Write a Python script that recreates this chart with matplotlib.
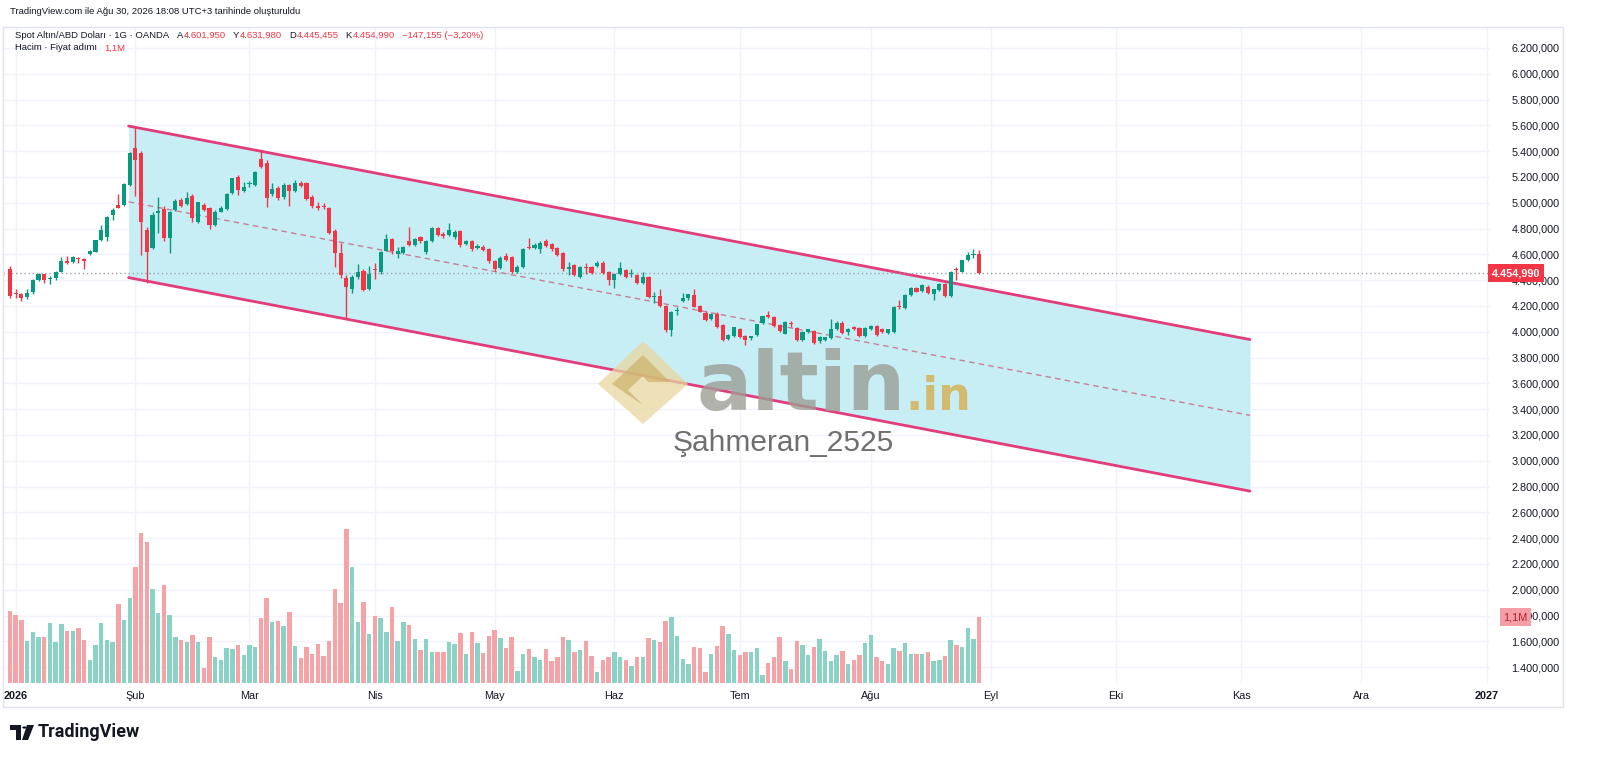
import numpy as np
import pandas as pd
import matplotlib
matplotlib.use("Agg")
import matplotlib.pyplot as plt
import matplotlib.transforms as mtrans
from matplotlib.patches import Rectangle, Polygon, Circle

plt.rcParams['font.family'] = ['Liberation Sans', 'DejaVu Sans']

# daily bars, bar 0 = 31 Dec 2025 ... bar 170 = 28 Aug 2026
opens = [4490, 4300, 4290, 4268, 4305, 4402, 4446, 4410, 4415, 4466,
         4551, 4540, 4572, 4565, 4603, 4621, 4711, 4737, 4905, 4983,
         4983, 5138, 5422, 5384, 4789, 4653, 4920, 4950, 4730, 4944,
         5022, 4988, 5055, 4849, 4983, 4958, 4828, 4931, 4952, 5074,
         5203, 5094, 5145, 5140, 5337, 5311, 5068, 5117, 5043, 5136,
         5089, 5156, 5151, 5043, 4978, 4975, 4957, 4784, 4609, 4415,
         4330, 4424, 4474, 4330, 4490, 4466, 4630, 4717, 4603, 4613,
         4700, 4674, 4733, 4620, 4700, 4803, 4760, 4750, 4733, 4784,
         4680, 4700, 4647, 4660, 4640, 4551, 4492, 4590, 4583, 4466,
         4500, 4655, 4647, 4640, 4707, 4678, 4652, 4613, 4485, 4518,
         4428, 4500, 4500, 4510, 4530, 4466, 4402, 4448, 4480, 4450,
         4440, 4376, 4428, 4268, 4278, 4200, 4014, 4160, 4240, 4260,
         4283, 4200, 4148, 4097, 4138, 4053, 3942, 3967, 4020, 3967,
         3950, 3975, 4066, 4130, 4112, 4053, 3985, 4065, 4027, 3936,
         3999, 4006, 3925, 3936, 3950, 4020, 4071, 4002, 4035, 4027,
         3965, 4020, 4045, 4020, 3990, 3995, 4200, 4182, 4285, 4337,
         4316, 4350, 4293, 4324, 4370, 4278, 4485, 4466, 4557, 4598,
         4601.950]
highs = [4510, 4335, 4300, 4335, 4410, 4452, 4450, 4432, 4470, 4582,
         4585, 4585, 4580, 4575, 4635, 4715, 4830, 4895, 4960, 5068,
         5150, 5390, 5590, 5400, 4810, 4925, 5047, 4975, 4935, 5030,
         5040, 5080, 5065, 5010, 4995, 4965, 4945, 4975, 5075, 5195,
         5215, 5160, 5170, 5250, 5410, 5330, 5150, 5130, 5150, 5145,
         5180, 5170, 5165, 5060, 5010, 4995, 4965, 4800, 4690, 4440,
         4440, 4525, 4490, 4510, 4530, 4630, 4760, 4725, 4660, 4665,
         4815, 4725, 4745, 4710, 4810, 4815, 4770, 4846, 4790, 4790,
         4710, 4710, 4680, 4670, 4648, 4560, 4585, 4610, 4590, 4515,
         4650, 4730, 4685, 4700, 4720, 4685, 4660, 4620, 4540, 4525,
         4510, 4530, 4510, 4545, 4545, 4475, 4455, 4540, 4490, 4485,
         4450, 4460, 4435, 4310, 4330, 4210, 4160, 4195, 4300, 4295,
         4330, 4210, 4160, 4145, 4150, 4060, 3980, 4040, 4030, 3975,
         3970, 4060, 4125, 4160, 4120, 4060, 4085, 4080, 4035, 4005,
         4025, 4015, 3965, 3962, 4097, 4080, 4080, 4030, 4045, 4035,
         4035, 4050, 4050, 4028, 4025, 4200, 4247, 4290, 4345, 4350,
         4370, 4365, 4335, 4380, 4378, 4470, 4505, 4560, 4615, 4645,
         4631.980]
lows = [4265, 4265, 4235, 4255, 4295, 4390, 4380, 4370, 4405, 4460,
        4525, 4535, 4530, 4487, 4598, 4615, 4705, 4705, 4870, 4958,
        4975, 5130, 5050, 4595, 4380, 4640, 4763, 4700, 4613, 4935,
        4965, 4980, 4850, 4840, 4935, 4800, 4820, 4925, 4945, 5065,
        5060, 5080, 5120, 5130, 5270, 4970, 5050, 5020, 5030, 4978,
        5080, 5120, 5020, 4960, 4945, 4950, 4760, 4500, 4420, 4100,
        4300, 4410, 4315, 4325, 4410, 4450, 4625, 4600, 4570, 4605,
        4665, 4665, 4690, 4600, 4695, 4745, 4730, 4745, 4720, 4660,
        4670, 4630, 4640, 4625, 4535, 4475, 4485, 4550, 4455, 4455,
        4495, 4640, 4640, 4610, 4655, 4630, 4585, 4475, 4440, 4430,
        4420, 4450, 4445, 4505, 4445, 4363, 4340, 4440, 4420, 4425,
        4370, 4370, 4260, 4220, 4190, 4000, 3967, 4130, 4230, 4250,
        4190, 4150, 4085, 4090, 4030, 3930, 3935, 3960, 3950, 3898,
        3940, 3970, 4060, 4105, 4040, 4000, 3980, 4040, 3930, 3925,
        3990, 3905, 3915, 3930, 3945, 4015, 3985, 3975, 4015, 3960,
        3958, 4015, 3970, 3990, 3985, 3990, 4180, 4175, 4280, 4305,
        4305, 4290, 4250, 4318, 4270, 4270, 4402, 4460, 4550, 4575,
        4445.455]
closes = [4280, 4290, 4262, 4300, 4400, 4446, 4402, 4420, 4461, 4551,
          4531, 4578, 4566, 4545, 4628, 4711, 4789, 4892, 4944, 4963,
          5143, 5384, 5332, 4854, 4621, 4906, 4935, 4725, 4925, 5014,
          4978, 5040, 4880, 5004, 4944, 4828, 4931, 4962, 5068, 5190,
          5100, 5125, 5150, 5241, 5280, 5035, 5105, 5035, 5138, 5094,
          5156, 5130, 5027, 4975, 4957, 4968, 4768, 4609, 4440, 4350,
          4428, 4460, 4324, 4448, 4480, 4621, 4718, 4630, 4624, 4655,
          4674, 4717, 4700, 4700, 4803, 4751, 4740, 4789, 4771, 4673,
          4700, 4641, 4665, 4634, 4545, 4485, 4574, 4560, 4466, 4505,
          4640, 4648, 4673, 4692, 4665, 4641, 4595, 4485, 4505, 4440,
          4500, 4492, 4453, 4530, 4453, 4402, 4448, 4492, 4428, 4458,
          4381, 4428, 4270, 4275, 4200, 4014, 4156, 4170, 4260, 4290,
          4195, 4156, 4091, 4138, 4040, 3936, 3975, 4035, 3957, 3936,
          3967, 4058, 4122, 4112, 4047, 4009, 4079, 4060, 3936, 3999,
          4018, 3916, 3957, 3957, 4022, 4071, 3990, 4020, 4020, 3967,
          4030, 4045, 3975, 3995, 4020, 4195, 4190, 4285, 4337, 4311,
          4362, 4298, 4330, 4370, 4278, 4466, 4478, 4556, 4598, 4602.145,
          4454.990]
# volume in millions
volumes = [1.20, 1.13, 1.05, 0.70, 0.85, 0.77, 0.77, 1.00, 0.68, 0.98,
           0.87, 0.87, 0.92, 0.72, 0.38, 0.63, 1.00, 0.72, 0.68, 1.32,
           1.05, 1.41, 1.94, 2.50, 2.35, 1.56, 1.16, 1.63, 1.13, 0.77,
           0.72, 0.68, 0.80, 0.68, 0.25, 0.77, 0.44, 0.39, 0.59, 0.56,
           0.63, 0.47, 0.63, 0.60, 1.08, 1.41, 1.01, 1.03, 0.95, 1.19,
           0.62, 0.41, 0.60, 0.48, 0.65, 0.45, 0.70, 1.57, 1.33, 2.57,
           1.93, 1.02, 1.35, 0.81, 1.11, 1.09, 0.85, 1.27, 0.70, 1.01,
           0.96, 0.74, 0.55, 0.74, 0.52, 0.52, 0.52, 0.68, 0.65, 0.84,
           0.48, 0.85, 0.67, 0.50, 0.79, 0.88, 0.75, 0.59, 0.77, 0.20,
           0.48, 0.57, 0.43, 0.38, 0.56, 0.36, 0.43, 0.77, 0.72, 0.52,
           0.55, 0.70, 0.45, 0.18, 0.38, 0.44, 0.52, 0.43, 0.38, 0.29,
           0.43, 0.43, 0.75, 0.72, 0.69, 1.03, 1.10, 0.78, 0.40, 0.32,
           0.60, 0.58, 0.19, 0.49, 0.61, 0.95, 0.82, 0.55, 0.47, 0.52,
           0.51, 0.59, 0.14, 0.34, 0.43, 0.77, 0.36, 0.24, 0.70, 0.64,
           0.46, 0.60, 0.73, 0.54, 0.37, 0.47, 0.54, 0.32, 0.38, 0.47,
           0.66, 0.80, 0.43, 0.36, 0.32, 0.59, 0.54, 0.66, 0.49, 0.48,
           0.48, 0.52, 0.36, 0.39, 0.45, 0.71, 0.64, 0.60, 0.91, 0.73,
           1.10]

# descending channel anchors (bar index, price)
chan_x = [20.8, 217.5]
chan_top = [5595, 3940]
chan_bottom = [4420, 2765]

month_labels = ['2026', 'Şub', 'Mar', 'Nis', 'May', 'Haz', 'Tem', 'Ağu',
                'Eyl', 'Eki', 'Kas', 'Ara', '2027']

UP, DOWN = '#089981', '#F23645'
VUP, VDOWN = '#8ad1c6', '#f5a3a6'
DARK = '#131722'


def tr_num(v):
    s = f"{v:,.3f}"
    return s.replace(',', 'X').replace('.', ',').replace('X', '.')


# trading calendar for the month labels
holidays = pd.to_datetime(['2026-01-01', '2026-04-03', '2026-12-25', '2027-01-01'])
days = pd.bdate_range('2025-12-31', '2027-01-15')
days = days[~days.isin(holidays)]
month_pos = []
for yr, mo in [(2026, m) for m in range(1, 13)] + [(2027, 1)]:
    month_pos.append(np.where((days.year == yr) & (days.month == mo))[0][0])

o = np.array(opens); h = np.array(highs); l = np.array(lows); c = np.array(closes)
x = np.arange(len(o))
up = c >= o

W, H = 1600, 772
fig = plt.figure(figsize=(16, 7.72), dpi=100)
fig.patch.set_facecolor('white')


def fx(px):
    return px / W


def fy(py):
    return 1 - py / H


ax = fig.add_axes([fx(3), fy(683), fx(1490) - fx(3), fy(28) - fy(683)])
ax.set_xlim(-1.23, 259.6)
ax.set_ylim(1277.5, 6355)
for s in ax.spines.values():
    s.set_visible(False)

# channel
ax.fill_between(chan_x, chan_bottom, chan_top, color='#c8eef5', zorder=1, lw=0)
ax.plot(chan_x, chan_top, color='#e23c7b', lw=2, zorder=2, solid_capstyle='round')
ax.plot(chan_x, chan_bottom, color='#e23c7b', lw=2, zorder=2, solid_capstyle='round')
mid = [(a + b) / 2 for a, b in zip(chan_top, chan_bottom)]
ax.plot(chan_x, mid, color='#c77f98', lw=1, ls=(0, (4, 3)), zorder=2)

# last price line
ax.axhline(c[-1], color='#9aa0ab', lw=1, ls=(0, (1, 2)), zorder=2)

# candles
col = np.where(up, UP, DOWN)
ax.vlines(x, l, h, colors=col, lw=1, zorder=3)
body_lo = np.minimum(o, c)
body_h = np.maximum(np.abs(c - o), 6)
ax.bar(x, body_h, bottom=body_lo, width=0.72, color=col, lw=0, zorder=4)

# volume overlay
vax = ax.twinx()
vax.set_ylim(0, 1.1 * 655 / 66)
vax.bar(x, volumes, width=0.78, color=np.where(up, VUP, VDOWN), lw=0)
vax.set_yticks([])
for s in vax.spines.values():
    s.set_visible(False)
vax.set_xlim(ax.get_xlim())

# grid and scales (after twinx, which moves the ticks back to the left)
yt = np.arange(1400, 6201, 200)
ax.set_yticks(yt)
ax.set_yticklabels([tr_num(v) for v in yt])
ax.yaxis.tick_right()
ax.tick_params(axis='y', which='both', left=False, right=False, labelleft=False,
               labelright=True, pad=12, labelsize=7.8, labelcolor=DARK)
ax.set_xticks(month_pos)
ax.set_xticklabels(month_labels)
ax.tick_params(axis='x', length=0, pad=6, labelsize=7.8, labelcolor=DARK)
for lab in ax.get_xticklabels():
    if lab.get_text() in ('2026', '2027'):
        lab.set_fontweight('bold')
ax.grid(True, color='#f0f3fa', lw=1)
ax.set_axisbelow(True)

# price tags on the scale
bt = mtrans.blended_transform_factory(ax.transAxes, ax.transData)
ax.text(1.0015, c[-1], tr_num(c[-1]), transform=bt, ha='left', va='center',
        fontsize=7.8, color='white', fontweight='bold', zorder=10, clip_on=False,
        bbox=dict(boxstyle='square,pad=0.35', fc=DOWN, ec='none'))
vbt = mtrans.blended_transform_factory(vax.transAxes, vax.transData)
vax.text(1.009, volumes[-1], f"{volumes[-1]:.1f}M".replace('.', ','), transform=vbt,
         ha='left', va='center', fontsize=7.8, color='#b2202e', zorder=10, clip_on=False,
         bbox=dict(boxstyle='square,pad=0.35', fc='#f59ea6', ec='none'))

# header
renderer = fig.canvas.get_renderer()


def text_run(x0, y, pieces, fs=6.8):
    # place pieces of text one after another on the same line
    xx = x0
    for txt, color, gap in pieces:
        t = fig.text(fx(xx), fy(y), txt, fontsize=fs, color=color, va='center')
        xx += t.get_window_extent(renderer=renderer).width + gap


fig.text(fx(10), fy(12), 'TradingView.com ile Ağu 30, 2026 18:08 UTC+3 tarihinde oluşturuldu',
         fontsize=6.8, color=DARK, va='center')
chg = c[-1] - c[-2]
chg_txt = '\u2212' + tr_num(abs(chg)) + ' (\u2212' + f"{abs(chg) / c[-2] * 100:.2f}".replace('.', ',') + '%)'
text_run(15, 35, [('Spot Altın/ABD Doları · 1G · OANDA', DARK, 8),
                  ('A', DARK, 0.5), (tr_num(opens[-1]), DOWN, 7),
                  ('Y', DARK, 0.5), (tr_num(highs[-1]), DOWN, 7),
                  ('D', DARK, 0.5), (tr_num(lows[-1]), DOWN, 7),
                  ('K', DARK, 0.5), (tr_num(closes[-1]), DOWN, 7),
                  (chg_txt, DOWN, 0)])
text_run(15, 48, [('Hacim · Fiyat adımı', DARK, 7),
                  (f"{volumes[-1]:.1f}M".replace('.', ','), DOWN, 0)])

# watermark
fig.add_artist(Polygon([(fx(598), fy(384)), (fx(643), fy(341)), (fx(688), fy(384)), (fx(643), fy(424))],
                       closed=True, fc='#e9d7a0', ec='none', alpha=0.75, transform=fig.transFigure))
fig.add_artist(Polygon([(fx(612), fy(384)), (fx(643), fy(355)), (fx(670), fy(382)), (fx(648), fy(382)),
                        (fx(643), fy(376)), (fx(628), fy(390)), (fx(643), fy(405))],
                       closed=True, fc='#cdb36a', ec='none', alpha=0.7, transform=fig.transFigure))
fig.text(fx(697), fy(410), 'altin', fontsize=59, fontweight='bold', family='DejaVu Sans',
         color='#9c9f95', alpha=0.8, ha='left', va='baseline')
fig.text(fx(905), fy(410), '.in', fontsize=33, fontweight='bold', family='DejaVu Sans',
         color='#d4b25a', alpha=0.85, ha='left', va='baseline')
fig.text(fx(783), fy(443), 'Şahmeran_2525', fontsize=21.5, color='#6f6f6f',
         ha='center', va='center')

# frame
fig.add_artist(Rectangle((fx(3), fy(707)), fx(1563) - fx(3), fy(27) - fy(707), fill=False,
                         ec='#e0e3eb', lw=1, transform=fig.transFigure))

# TradingView logo
fig.add_artist(Polygon([(fx(10), fy(725)), (fx(21), fy(725)), (fx(21), fy(740)), (fx(16), fy(740)),
                        (fx(16), fy(730)), (fx(10), fy(730))], closed=True, fc=DARK,
                       ec='none', transform=fig.transFigure))
fig.add_artist(Polygon([(fx(27), fy(725)), (fx(34), fy(725)), (fx(28), fy(740)), (fx(22), fy(740))],
                       closed=True, fc=DARK, ec='none', transform=fig.transFigure))
fig.add_artist(Circle((fx(24.5), fy(727.5)), 2.3 / W, fc=DARK, ec='none',
                      transform=fig.transFigure))
fig.text(fx(38), fy(732), 'TradingView', fontsize=13, fontweight='bold', family='Roboto',
         color=DARK, va='center')

fig.savefig('out.png', dpi=100, facecolor='white')
